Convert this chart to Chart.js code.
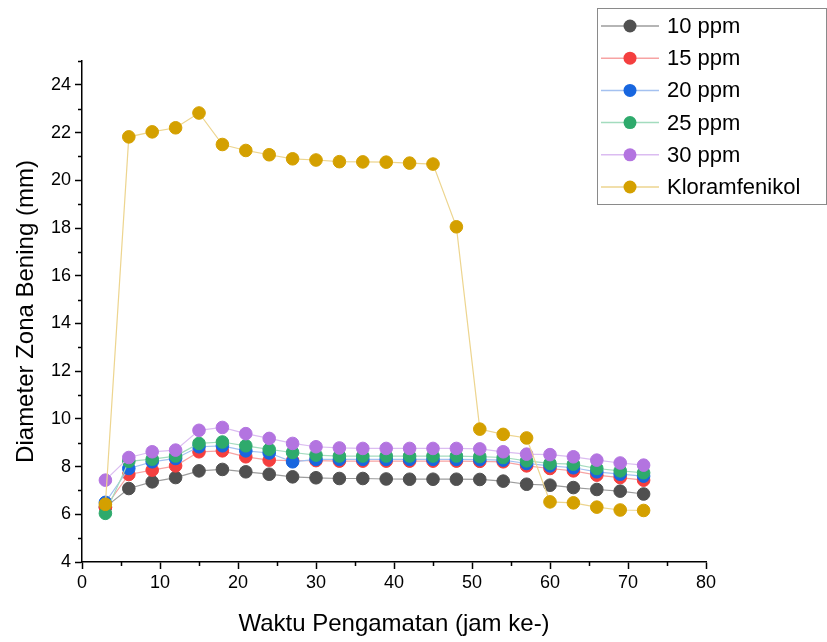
<!DOCTYPE html>
<html>
<head>
<meta charset="utf-8">
<script src="https://cdn.jsdelivr.net/npm/chart.js@4"></script>
<style>
  html, body { margin: 0; padding: 0; background: #fff; }
  #zonaChart { display: block; }
</style>
</head>
<body>
<canvas id="zonaChart" width="827" height="642"></canvas>
<script>
const hours = [3, 6, 9, 12, 15, 18, 21, 24, 27, 30, 33, 36, 39, 42, 45, 48, 51, 54, 57, 60, 63, 66, 69, 72];

const ppm10 = [6.30, 7.08, 7.36, 7.54, 7.82, 7.88, 7.78, 7.68, 7.57, 7.53, 7.50, 7.50, 7.48, 7.47, 7.47, 7.47, 7.46, 7.39, 7.26, 7.22, 7.12, 7.04, 6.97, 6.85];
const ppm15 = [6.30, 7.67, 7.85, 8.03, 8.62, 8.66, 8.41, 8.27, 8.25, 8.25, 8.23, 8.23, 8.23, 8.23, 8.23, 8.23, 8.22, 8.20, 8.03, 7.92, 7.82, 7.64, 7.54, 7.43];
const ppm20 = [6.50, 7.92, 8.20, 8.34, 8.83, 8.87, 8.66, 8.57, 8.20, 8.30, 8.30, 8.30, 8.30, 8.30, 8.30, 8.30, 8.29, 8.27, 8.13, 8.03, 7.95, 7.78, 7.68, 7.60];
const ppm25 = [6.04, 8.22, 8.31, 8.44, 8.97, 9.03, 8.87, 8.72, 8.59, 8.48, 8.44, 8.44, 8.44, 8.44, 8.44, 8.44, 8.42, 8.38, 8.24, 8.13, 8.10, 7.92, 7.82, 7.74];
const ppm30 = [7.43, 8.38, 8.62, 8.69, 9.52, 9.64, 9.38, 9.18, 8.97, 8.83, 8.78, 8.76, 8.76, 8.76, 8.76, 8.76, 8.74, 8.62, 8.52, 8.50, 8.41, 8.27, 8.15, 8.06];
const kloramfenikol = [6.42, 21.82, 22.03, 22.20, 22.82, 21.50, 21.25, 21.07, 20.90, 20.85, 20.78, 20.77, 20.76, 20.72, 20.68, 18.05, 9.57, 9.35, 9.20, 6.52, 6.48, 6.30, 6.18, 6.16];

const seriesLabels = ['10 ppm', '15 ppm', '20 ppm', '25 ppm', '30 ppm', 'Kloramfenikol'];
const seriesValues = [ppm10, ppm15, ppm20, ppm25, ppm30, kloramfenikol];
const dotColors = ['#505050', '#f43f3f', '#1866df', '#2eaa6c', '#b374e0', '#d4a000'];
const lineColors = ['#9c9c9c', '#f7a3a3', '#a4c1f0', '#a3dcbe', '#dbbcf1', '#edd58f'];

const yMajorTicks = [4, 6, 8, 10, 12, 14, 16, 18, 20, 22, 24];
const xMajorTicks = [0, 10, 20, 30, 40, 50, 60, 70, 80];

const FONT = "'Liberation Sans', Arial, sans-serif";

const datasets = seriesValues.map((vals, i) => ({
  label: seriesLabels[i],
  data: vals.map((v, j) => ({x: hours[j], y: v})),
  borderColor: lineColors[i],
  backgroundColor: dotColors[i],
  pointBackgroundColor: dotColors[i],
  pointBorderColor: dotColors[i],
  pointBorderWidth: 1,
  pointRadius: 6.3,
  borderWidth: 1.2,
  tension: 0,
  order: seriesLabels.length - 1 - i
}));

// short minor ticks between the labelled ones
const minorTicks = {
  id: 'minorTicks',
  afterDraw(chart) {
    const {ctx, scales: {x, y}} = chart;
    ctx.save();
    ctx.strokeStyle = '#000';
    ctx.lineWidth = 1.5;
    ctx.beginPath();
    for (let v = 5; v <= 25; v += 2) {
      const py = Math.round(y.getPixelForValue(v)) + 0.5;
      ctx.moveTo(x.left - 4, py);
      ctx.lineTo(x.left, py);
    }
    for (let v = 5; v <= 75; v += 10) {
      const px = Math.round(x.getPixelForValue(v)) + 0.5;
      ctx.moveTo(px, y.bottom);
      ctx.lineTo(px, y.bottom + 4);
    }
    ctx.stroke();
    ctx.restore();
  }
};

// boxed legend with line + dot symbols
const boxLegend = {
  id: 'boxLegend',
  afterDraw(chart) {
    const ctx = chart.ctx;
    ctx.save();
    ctx.fillStyle = '#fff';
    ctx.fillRect(597, 8, 230, 197);
    ctx.strokeStyle = '#8a8a8a';
    ctx.lineWidth = 1;
    ctx.strokeRect(597.5, 8.5, 229, 196);
    ctx.font = '22px ' + FONT;
    ctx.textBaseline = 'middle';
    seriesLabels.forEach((lab, i) => {
      const yy = 26 + i * 32.2;
      ctx.strokeStyle = lineColors[i];
      ctx.lineWidth = 1.5;
      ctx.beginPath();
      ctx.moveTo(601, yy);
      ctx.lineTo(659, yy);
      ctx.stroke();
      ctx.fillStyle = dotColors[i];
      ctx.beginPath();
      ctx.arc(630, yy, 6.5, 0, Math.PI * 2);
      ctx.fill();
      ctx.fillStyle = '#000';
      ctx.fillText(lab, 667, yy + 1);
    });
    ctx.restore();
  }
};

const ctx = document.getElementById('zonaChart').getContext('2d');
const chart = new Chart(ctx, {
  type: 'line',
  data: {datasets: datasets},
  plugins: [minorTicks, boxLegend],
  options: {
    responsive: false,
    animation: false,
    layout: {padding: {top: 61, right: 121, left: 0, bottom: 0}},
    plugins: {
      legend: {display: false},
      tooltip: {enabled: false}
    },
    scales: {
      x: {
        type: 'linear',
        min: 0,
        max: 80,
        afterFit: (scale) => { scale.height = 80; },
        afterBuildTicks: (scale) => { scale.ticks = xMajorTicks.map(v => ({value: v})); },
        border: {display: true, color: '#000', width: 1.5},
        grid: {drawOnChartArea: false, drawTicks: true, tickLength: 7, tickColor: '#000', tickWidth: 1.5},
        ticks: {color: '#000', padding: 3, maxRotation: 0, font: {family: FONT, size: 18}},
        title: {
          display: true,
          text: 'Waktu Pengamatan (jam ke-)',
          color: '#000',
          font: {family: FONT, size: 24, lineHeight: 1.2},
          padding: {top: 0, bottom: 3}
        }
      },
      y: {
        type: 'linear',
        min: 4,
        max: 25,
        afterFit: (scale) => { scale.width = 82; },
        afterBuildTicks: (scale) => { scale.ticks = yMajorTicks.map(v => ({value: v})); },
        border: {display: true, color: '#000', width: 1.5},
        grid: {drawOnChartArea: false, drawTicks: true, tickLength: 7, tickColor: '#000', tickWidth: 1.5},
        ticks: {color: '#000', padding: 4, font: {family: FONT, size: 18}},
        title: {
          display: true,
          text: 'Diameter Zona Bening (mm)',
          color: '#000',
          font: {family: FONT, size: 24, lineHeight: 1.2},
          padding: {top: 12, bottom: 0}
        }
      }
    }
  }
});
</script>
</body>
</html>
